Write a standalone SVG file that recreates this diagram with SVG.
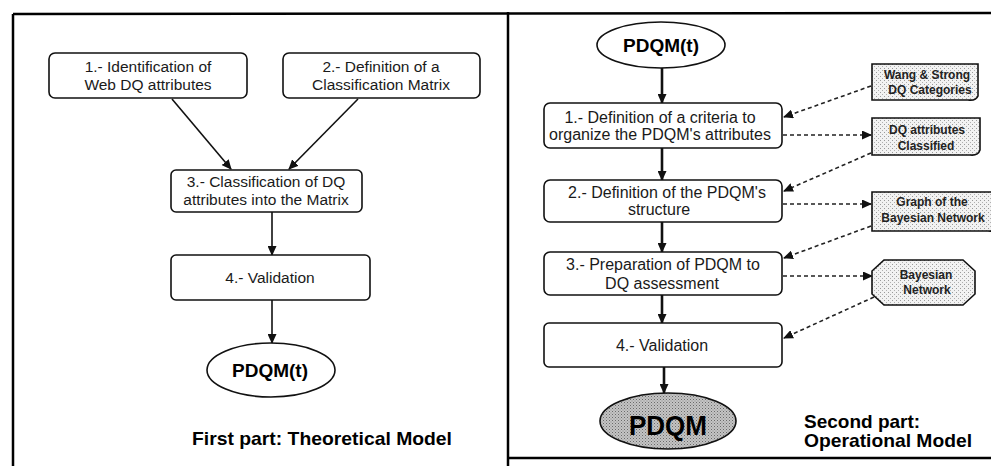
<svg xmlns="http://www.w3.org/2000/svg" width="991" height="466" viewBox="0 0 991 466">
  <defs>
    <style>
      .frame { stroke: #000; stroke-width: 2.5; fill: none; }
      .box { fill: #fff; stroke: #111; stroke-width: 1.6; }
      .lbl { font-family: "Liberation Sans", Arial, sans-serif; font-size: 15.5px; fill: #1a1a1a; text-anchor: middle; }
      .rlbl { font-family: "Liberation Sans", Arial, sans-serif; font-size: 16px; fill: #1a1a1a; text-anchor: middle; }
      .small { font-family: "Liberation Sans", Arial, sans-serif; font-size: 12px; font-weight: bold; fill: #222; text-anchor: middle; }
      .bold { font-family: "Liberation Sans", Arial, sans-serif; font-weight: bold; fill: #000; }
      .term { fill: #fff; stroke: #111; stroke-width: 1.6; }
      .doc { fill: url(#stipple); stroke: #111; stroke-width: 1.6; }
      .solid { stroke: #111; stroke-width: 1.6; fill: none; marker-end: url(#head); }
      .thick { stroke: #111; stroke-width: 2.6; fill: none; marker-end: url(#head); }
      .dash { stroke: #222; stroke-width: 1.6; fill: none; stroke-dasharray: 4 3; marker-end: url(#head); }
    </style>
    <marker id="head" markerUnits="userSpaceOnUse" markerWidth="10" markerHeight="9" refX="9" refY="4.5" orient="auto">
      <path d="M0,0 L10,4.5 L0,9 Z" fill="#111"/>
    </marker>
    <pattern id="stipple" width="4" height="4" patternUnits="userSpaceOnUse">
      <rect width="4" height="4" fill="#f2f2f2"/>
      <rect x="0" y="0" width="1" height="1" fill="#9a9a9a"/>
      <rect x="2" y="2" width="1" height="1" fill="#b0b0b0"/>
    </pattern>
    <pattern id="dense" width="3" height="3" patternUnits="userSpaceOnUse">
      <rect width="3" height="3" fill="#c4c4c4"/>
      <rect x="0" y="0" width="1" height="1" fill="#6a6a6a"/>
      <rect x="1.5" y="1.5" width="1" height="1" fill="#888"/>
    </pattern>
  </defs>

  <rect width="991" height="466" fill="#fff"/>

  <!-- outer frame and divider -->
  <g id="frame">
    <line class="frame" x1="13" y1="14" x2="991" y2="13"/>
    <line class="frame" x1="13" y1="14" x2="13" y2="466"/>
    <line class="frame" x1="508" y1="12" x2="508" y2="466" stroke-width="3"/>
    <line class="frame" x1="508" y1="458" x2="991" y2="458" stroke-width="2"/>
  </g>

  <!-- connectors -->
  <g id="connectors">
    <!-- theoretical model -->
    <line class="solid" x1="172" y1="99" x2="231" y2="169"/>
    <line class="solid" x1="358" y1="99" x2="289" y2="169"/>
    <line class="solid" x1="272" y1="212" x2="272" y2="255"/>
    <line class="solid" x1="272" y1="300" x2="272" y2="343"/>
    <!-- operational model -->
    <line class="thick" x1="662" y1="68" x2="662" y2="103"/>
    <line class="thick" x1="662" y1="148" x2="662" y2="180"/>
    <line class="thick" x1="662" y1="222" x2="662" y2="252"/>
    <line class="thick" x1="662" y1="295" x2="662" y2="323"/>
    <line class="thick" x1="664" y1="367" x2="664" y2="393"/>
    <!-- resources -->
    <line class="dash" x1="871" y1="86" x2="784" y2="117"/>
    <line class="dash" x1="783" y1="135" x2="871" y2="135"/>
    <line class="dash" x1="871" y1="153" x2="784" y2="191"/>
    <line class="dash" x1="783" y1="204" x2="871" y2="204"/>
    <line class="dash" x1="871" y1="226" x2="784" y2="258"/>
    <line class="dash" x1="783" y1="276" x2="872" y2="276"/>
    <line class="dash" x1="874" y1="297" x2="784" y2="338"/>
  </g>

  <!-- first part: theoretical model -->
  <g id="t1">
    <rect class="box" x="49" y="53" width="198" height="45" rx="6"/>
    <text class="lbl" x="148" y="72">1.- Identification of</text>
    <text class="lbl" x="148" y="90">Web DQ attributes</text>
  </g>
  <g id="t2">
    <rect class="box" x="283" y="53" width="197" height="45" rx="6"/>
    <text class="lbl" x="381" y="72">2.- Definition of a</text>
    <text class="lbl" x="381" y="90">Classification Matrix</text>
  </g>
  <g id="t3">
    <rect class="box" x="171" y="170" width="191" height="42" rx="5"/>
    <text class="lbl" x="266" y="187">3.- Classification of DQ</text>
    <text class="lbl" x="266" y="205">attributes into the Matrix</text>
  </g>
  <g id="t4">
    <rect class="box" x="171" y="255" width="199" height="45" rx="5"/>
    <text class="lbl" x="270" y="283">4.- Validation</text>
  </g>
  <g id="t-out">
    <ellipse class="term" cx="271" cy="370" rx="64" ry="27"/>
    <text class="bold" x="270" y="377" font-size="19" text-anchor="middle">PDQM(t)</text>
  </g>
  <g id="t-title">
    <text class="bold" x="192" y="445" font-size="19" textLength="260" lengthAdjust="spacingAndGlyphs">First part: Theoretical Model</text>
  </g>

  <!-- second part: operational model -->
  <g id="o-in">
    <ellipse class="term" cx="661" cy="45" rx="64" ry="23"/>
    <text class="bold" x="661" y="52" font-size="19" text-anchor="middle">PDQM(t)</text>
  </g>
  <g id="o1">
    <rect class="box" x="544" y="103" width="238" height="45" rx="6"/>
    <text class="rlbl" x="660" y="123">1.- Definition of a criteria to</text>
    <text class="rlbl" x="660" y="140">organize the PDQM's attributes</text>
  </g>
  <g id="o2">
    <rect class="box" x="544" y="180" width="238" height="42" rx="6"/>
    <text class="rlbl" x="667" y="198">2.- Definition of the PDQM's</text>
    <text class="rlbl" x="659" y="215">structure</text>
  </g>
  <g id="o3">
    <rect class="box" x="544" y="252" width="238" height="43" rx="6"/>
    <text class="rlbl" x="663" y="270">3.- Preparation of PDQM to</text>
    <text class="rlbl" x="662" y="289">DQ assessment</text>
  </g>
  <g id="o4">
    <rect class="box" x="544" y="323" width="238" height="44" rx="5"/>
    <text class="rlbl" x="662" y="351">4.- Validation</text>
  </g>
  <g id="o-out">
    <ellipse cx="668" cy="421" rx="68" ry="28" fill="url(#dense)" stroke="#111" stroke-width="1.6"/>
    <text class="bold" x="668" y="435" font-size="28" text-anchor="middle" textLength="78" lengthAdjust="spacingAndGlyphs">PDQM</text>
  </g>
  <g id="o-title">
    <text class="bold" x="804" y="428" font-size="19">Second part:</text>
    <text class="bold" x="804" y="447" font-size="19" textLength="168" lengthAdjust="spacingAndGlyphs">Operational Model</text>
  </g>

  <!-- resources used by the operational steps -->
  <g id="r-wang">
    <path class="doc" d="M872,64 H978 V96 Q976,101 968,100 H872 Z"/>
    <text class="small" x="927" y="79">Wang &amp; Strong</text>
    <text class="small" x="930" y="94">DQ Categories</text>
  </g>
  <g id="r-classified">
    <path class="doc" d="M872,118 H980 V150 Q978,156 970,155 H872 Z"/>
    <text class="small" x="927" y="134">DQ attributes</text>
    <text class="small" x="926" y="150">Classified</text>
  </g>
  <g id="r-graph">
    <path class="doc" d="M872,192 H998 V226 Q996,232 988,231 H872 Z"/>
    <text class="small" x="932" y="206">Graph of the</text>
    <text class="small" x="933" y="222">Bayesian Network</text>
  </g>
  <g id="r-bn">
    <path class="doc" d="M884,260 H963 L975,271 V294 L963,305 H884 L872,294 V271 Z"/>
    <text class="small" x="926" y="279">Bayesian</text>
    <text class="small" x="927" y="294">Network</text>
  </g>
</svg>
